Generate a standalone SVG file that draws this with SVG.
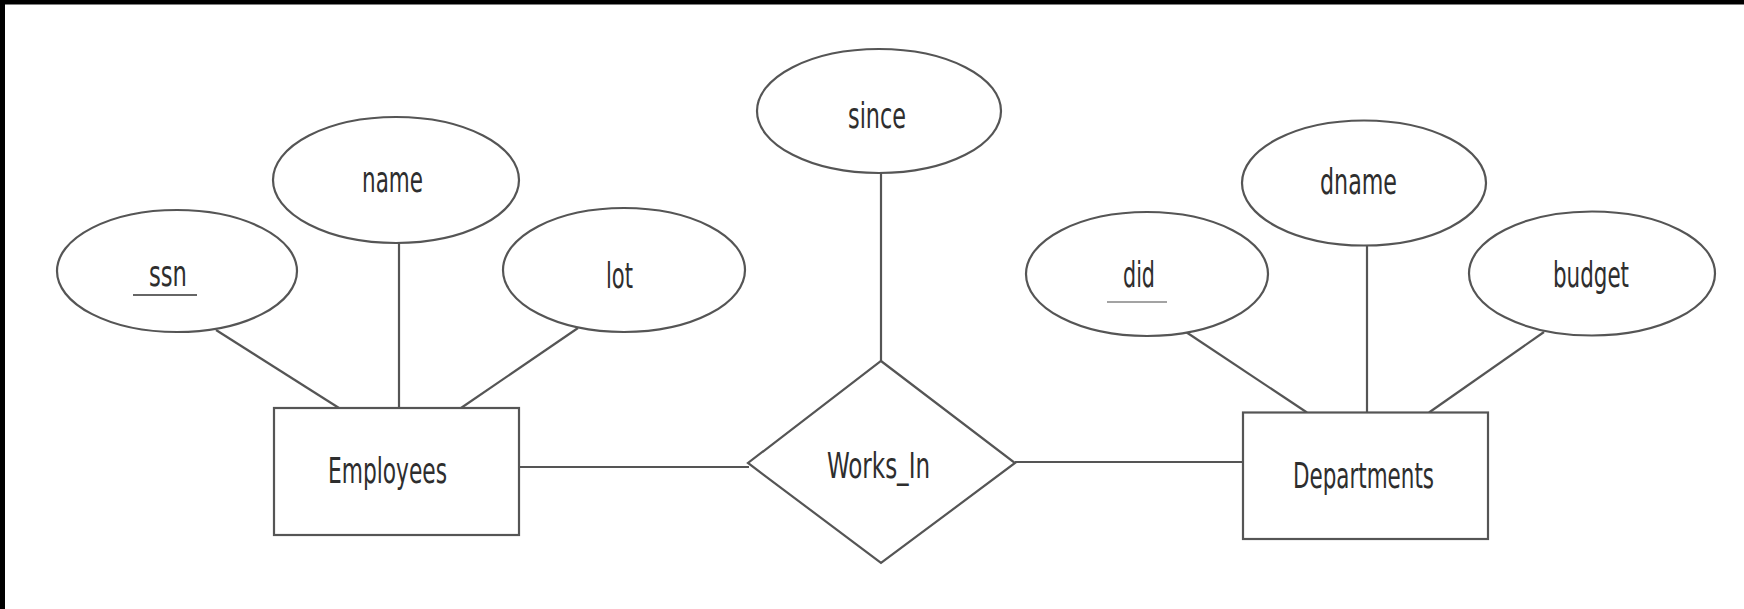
<svg xmlns="http://www.w3.org/2000/svg" width="1744" height="609" viewBox="0 0 1744 609">
<style>
.shape{fill:#ffffff;stroke:#555555;stroke-width:2.2}
.conn{stroke:#555555;stroke-width:2.2;fill:none}
.lbl{font-family:"Liberation Sans Narrow","DejaVu Sans Condensed","Liberation Sans",sans-serif;font-size:35px;fill:#2e2e2e}
.ul{stroke:#666666;stroke-width:2}
</style>
<rect x="0" y="0" width="1744" height="609" fill="#ffffff"/>
<rect x="0" y="0" width="1744" height="4.5" fill="#000000"/>
<rect x="0" y="0" width="5" height="609" fill="#000000"/>
<g id="connectors">
<line class="conn" x1="216" y1="330" x2="339" y2="408"/>
<line class="conn" x1="399" y1="243" x2="399" y2="408"/>
<line class="conn" x1="578" y1="328" x2="461" y2="408"/>
<line class="conn" x1="881" y1="173" x2="881" y2="361"/>
<line class="conn" x1="519" y1="467" x2="749" y2="467"/>
<line class="conn" x1="1015" y1="462" x2="1243" y2="462"/>
<line class="conn" x1="1186" y1="332" x2="1307" y2="412.5"/>
<line class="conn" x1="1367" y1="245.5" x2="1367" y2="412.5"/>
<line class="conn" x1="1544" y1="332" x2="1429" y2="412.5"/>
</g>
<g id="ssn">
<ellipse class="shape" cx="177" cy="271" rx="120" ry="61"/>
<text class="lbl" x="149" y="286" textLength="38" lengthAdjust="spacingAndGlyphs">ssn</text>
<line class="ul" x1="133" y1="295" x2="197" y2="295"/>
</g>
<g id="name">
<ellipse class="shape" cx="396" cy="180" rx="123" ry="63"/>
<text class="lbl" x="362" y="192" textLength="61" lengthAdjust="spacingAndGlyphs">name</text>
</g>
<g id="lot">
<ellipse class="shape" cx="624" cy="270" rx="121" ry="62"/>
<text class="lbl" x="606" y="288" textLength="27" lengthAdjust="spacingAndGlyphs">lot</text>
</g>
<g id="since">
<ellipse class="shape" cx="879" cy="111" rx="122" ry="62"/>
<text class="lbl" x="848" y="128" textLength="58" lengthAdjust="spacingAndGlyphs">since</text>
</g>
<g id="did">
<ellipse class="shape" cx="1147" cy="274" rx="121" ry="62"/>
<text class="lbl" x="1123" y="287" textLength="32" lengthAdjust="spacingAndGlyphs">did</text>
<line class="ul" x1="1107" y1="302" x2="1167" y2="302" stroke-opacity="0.6"/>
</g>
<g id="dname">
<ellipse class="shape" cx="1364" cy="183" rx="122" ry="62.5"/>
<text class="lbl" x="1320" y="194" textLength="77" lengthAdjust="spacingAndGlyphs">dname</text>
</g>
<g id="budget">
<ellipse class="shape" cx="1592" cy="273.5" rx="123" ry="62"/>
<text class="lbl" x="1553" y="287" textLength="76" lengthAdjust="spacingAndGlyphs">budget</text>
</g>
<g id="employees">
<rect class="shape" x="274" y="408" width="245" height="127"/>
<text class="lbl" x="328" y="483" textLength="119" lengthAdjust="spacingAndGlyphs">Employees</text>
</g>
<g id="works_in">
<polygon class="shape" points="881,361 1015,463 881,563 748,463"/>
<text class="lbl" x="827" y="478" textLength="103" lengthAdjust="spacingAndGlyphs">Works_In</text>
</g>
<g id="departments">
<rect class="shape" x="1243" y="412.5" width="245" height="126.5"/>
<text class="lbl" x="1293" y="488" textLength="141" lengthAdjust="spacingAndGlyphs">Departments</text>
</g>
</svg>
